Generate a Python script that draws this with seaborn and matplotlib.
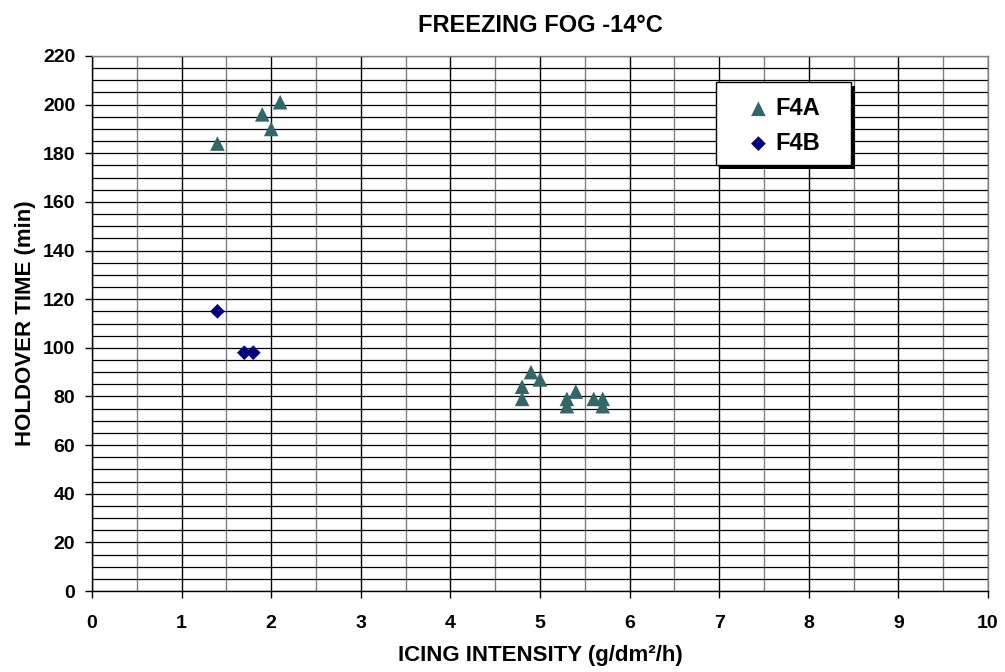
import matplotlib
matplotlib.use("Agg")
import matplotlib.pyplot as plt
import seaborn as sns
import pandas as pd
from matplotlib.ticker import MultipleLocator
from matplotlib.patches import Rectangle

# Data
f4a_x = [1.4, 1.9, 2.0, 2.1, 4.8, 4.8, 4.9, 5.0, 5.3, 5.3, 5.4, 5.6, 5.7, 5.7]
f4a_y = [184, 196, 190, 201, 84, 79, 90, 87, 79, 76, 82, 79, 79, 76]
f4b_x = [1.4, 1.7, 1.8]
f4b_y = [115, 98, 98]

series_names = ["F4A", "F4B"]
title = "FREEZING FOG -14°C"
xlabel = "ICING INTENSITY (g/dm²/h)"
ylabel = "HOLDOVER TIME (min)"

df_a = pd.DataFrame({"x": f4a_x, "y": f4a_y})
df_b = pd.DataFrame({"x": f4b_x, "y": f4b_y})

sns.set_theme(style="white")
plt.rcParams["font.family"] = ["Liberation Sans", "DejaVu Sans"]
plt.rcParams["font.weight"] = "bold"
for k in ["text.color", "axes.labelcolor", "xtick.color", "ytick.color"]:
    plt.rcParams[k] = "black"

fig = plt.figure(figsize=(10.05, 6.72), dpi=100)
ax = fig.add_axes([92 / 1005, 1 - 591 / 672, 896 / 1005, 535 / 672])

sns.scatterplot(data=df_a, x="x", y="y", marker="^", color="#336666",
                s=165, edgecolor="none", ax=ax, zorder=3, label=series_names[0])
sns.scatterplot(data=df_b, x="x", y="y", marker="D", color="#000080",
                s=70, edgecolor="none", ax=ax, zorder=3, label=series_names[1])

ax.set_xlim(0, 10)
ax.set_ylim(0, 220)
ax.xaxis.set_major_locator(MultipleLocator(1))
ax.xaxis.set_minor_locator(MultipleLocator(0.5))
ax.yaxis.set_major_locator(MultipleLocator(20))
ax.yaxis.set_minor_locator(MultipleLocator(5))

ax.grid(which="major", axis="x", color="black", linewidth=1.0)
ax.grid(which="minor", axis="x", color="#808080", linewidth=1.0)
ax.grid(which="both", axis="y", color="black", linewidth=0.9)
ax.set_axisbelow(True)

for side in ["top", "right"]:
    ax.spines[side].set_visible(True)
    ax.spines[side].set_color("#808080")
    ax.spines[side].set_linewidth(1.0)
for side in ["left", "bottom"]:
    ax.spines[side].set_color("black")
    ax.spines[side].set_linewidth(1.0)

ax.tick_params(axis="both", which="major", direction="out", length=5, width=1,
               color="black", labelsize=14, bottom=True, left=True)
ax.tick_params(axis="x", which="major", pad=12)
ax.tick_params(axis="y", which="major", pad=7)
ax.tick_params(axis="both", which="minor", length=0)
for lbl in ax.get_xticklabels() + ax.get_yticklabels():
    lbl.set_fontweight("bold")

ax.set_xlabel(xlabel, fontsize=16, fontweight="bold", labelpad=10)
ax.set_ylabel(ylabel, fontsize=16, fontweight="bold", labelpad=5)
ax.set_title(title, fontsize=17, fontweight="bold", pad=17)

# Legend box with shadow
x0, x1 = (716 - 92) / 896, (851 - 92) / 896
y1, y0 = (591 - 82) / 535, (591 - 165) / 535
sx, sy = 4 / 896, 4 / 535
ax.add_patch(Rectangle((x0 + sx, y0 - sy), x1 - x0, y1 - y0, transform=ax.transAxes,
                       facecolor="black", edgecolor="none", zorder=4, clip_on=False))
ax.add_patch(Rectangle((x0, y0), x1 - x0, y1 - y0, transform=ax.transAxes,
                       facecolor="white", edgecolor="black", linewidth=1.0,
                       zorder=4.5, clip_on=False))

handles, labels = ax.get_legend_handles_labels()
for h, ms in zip(handles, [10.5, 7.5]):
    try:
        h.set_sizes([ms ** 2])
    except Exception:
        pass
leg = ax.legend(handles, labels, loc="center left",
                bbox_to_anchor=((746.6 - 92) / 896, (591 - 125.9) / 535),
                frameon=False, prop={"weight": "bold", "size": 17},
                handletextpad=0.2, borderpad=0, labelspacing=0.5,
                handlelength=1.0, borderaxespad=0)
leg.set_zorder(5)

fig.savefig("out.png", dpi=100)
